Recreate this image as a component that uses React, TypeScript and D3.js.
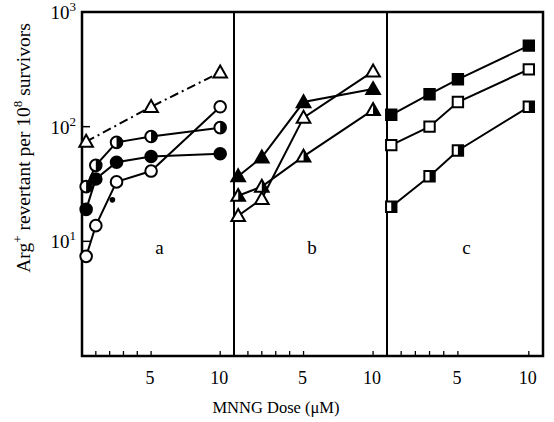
import * as d3 from 'd3';
import React, {useRef, useEffect} from 'react';

// doses (uM) and revertants per 10^8 survivors
const dosesA = [0.3, 1, 2.5, 5, 10];
const aHalfCircle = [30, 46, 73, 82, 98];
const aFilledCircle = [19, 35, 49, 55, 58];
const aOpenCircle = [7.4, 13.7, 33, 41, 149];
const dosesADash = [0.3, 5, 10];
const aOpenTriangle = [74, 149, 298];
const dosesADot = [2.2];
const aDot = [23];

const dosesB = [0.3, 2, 5, 10];
const bFilledTriangle = [37, 54, 164, 213];
const bHalfTriangle = [25, 30, 55, 140];
const bOpenTriangle = [16.7, 23.5, 120, 304];

const dosesC = [0.3, 3, 5, 10];
const cFilledSquare = [127, 192, 259, 509];
const cOpenSquare = [69, 100, 164, 316];
const cHalfSquare = [20, 37, 62, 149];

const panelNames = ['a', 'b', 'c'];
const xTicks = [1, 2, 3, 4, 5, 10];
const xTickLabels = [5, 10];
const yTicks = [10, 100, 1000];

function App(){
    const ref = useRef();

    useEffect(() => {
        const svg = d3.select(ref.current);
        svg.selectAll('*').remove();

        const edges = [82, 234, 387, 543];
        const top = 12, bottom = 356;
        const y = d3.scaleLog().domain([1, 1000]).range([bottom, top]);
        const xs = [0, 1, 2].map(i => d3.scaleLinear().domain([0, 11]).range([edges[i], edges[i + 1]]));

        const font = '"Liberation Serif", "DejaVu Serif", serif';

        // frame and dividers
        svg.append('rect')
            .attr('x', edges[0]).attr('y', top)
            .attr('width', edges[3] - edges[0]).attr('height', bottom - top)
            .attr('fill', 'none').attr('stroke', '#000').attr('stroke-width', 2.5);
        [edges[1], edges[2]].forEach(e => {
            svg.append('line').attr('x1', e).attr('x2', e).attr('y1', top).attr('y2', bottom)
                .attr('stroke', '#000').attr('stroke-width', 2);
        });

        // y ticks and labels
        yTicks.forEach(t => {
            svg.append('line').attr('x1', edges[0]).attr('x2', edges[0] + 8)
                .attr('y1', y(t)).attr('y2', y(t)).attr('stroke', '#000').attr('stroke-width', 1.5);
            const txt = svg.append('text').attr('x', 76).attr('y', y(t) + 7)
                .attr('text-anchor', 'end').attr('font-family', font).attr('font-size', 19);
            txt.append('tspan').text('10');
            txt.append('tspan').attr('dy', -8).attr('font-size', 13).text(Math.round(Math.log10(t)));
        });

        // x ticks per panel
        xs.forEach((x, i) => {
            xTicks.forEach(t => {
                svg.append('line').attr('x1', x(t)).attr('x2', x(t))
                    .attr('y1', bottom).attr('y2', bottom - 5)
                    .attr('stroke', '#000').attr('stroke-width', 1.3);
            });
            xTickLabels.forEach(t => {
                svg.append('text').attr('x', x(t) - 1).attr('y', 384)
                    .attr('text-anchor', 'middle').attr('font-family', font).attr('font-size', 18)
                    .text(t);
            });
            svg.append('text').attr('x', x(5.6)).attr('y', 254)
                .attr('text-anchor', 'middle').attr('font-family', font).attr('font-size', 19)
                .text(panelNames[i]);
        });

        // axis titles
        svg.append('text').attr('x', 276).attr('y', 413)
            .attr('text-anchor', 'middle').attr('font-family', font).attr('font-size', 16.5)
            .text('MNNG Dose (μM)');
        const yt = svg.append('text')
            .attr('transform', 'translate(30,148) rotate(-90)')
            .attr('text-anchor', 'middle').attr('font-family', font).attr('font-size', 19.5);
        yt.append('tspan').text('Arg');
        yt.append('tspan').attr('dy', -8).attr('font-size', 13).text('+');
        yt.append('tspan').attr('dy', 8).text(' revertant per 10');
        yt.append('tspan').attr('dy', -8).attr('font-size', 13).text('8');
        yt.append('tspan').attr('dy', 8).text(' survivors');

        const marker = (g, shape, fill, cx, cy) => {
            if (shape === 'dot') {
                g.append('circle').attr('cx', cx).attr('cy', cy).attr('r', 2.8).attr('fill', '#000');
                return;
            }
            let outline, half;
            if (shape === 'circle') {
                const r = 5.8;
                outline = `M${cx - r},${cy}A${r},${r} 0 1 1 ${cx + r},${cy}A${r},${r} 0 1 1 ${cx - r},${cy}Z`;
                half = `M${cx},${cy - r}A${r},${r} 0 0 1 ${cx},${cy + r}Z`;
            } else if (shape === 'triangle') {
                const s = 6.8;
                outline = `M${cx},${cy - s}L${cx + s},${cy + s * 0.75}L${cx - s},${cy + s * 0.75}Z`;
                half = `M${cx},${cy - s}L${cx + s},${cy + s * 0.75}L${cx},${cy + s * 0.75}Z`;
            } else {
                const h = 5.2;
                outline = `M${cx - h},${cy - h}H${cx + h}V${cy + h}H${cx - h}Z`;
                half = `M${cx},${cy - h}H${cx + h}V${cy + h}H${cx}Z`;
            }
            g.append('path').attr('d', outline)
                .attr('fill', fill === 'filled' ? '#000' : '#fff')
                .attr('stroke', '#000').attr('stroke-width', 2);
            if (fill === 'half') g.append('path').attr('d', half).attr('fill', '#000');
        };

        const series = [
            {p: 0, d: dosesADash, v: aOpenTriangle, shape: 'triangle', fill: 'open', dash: '9,4,2,4'},
            {p: 0, d: dosesA, v: aOpenCircle, shape: 'circle', fill: 'open'},
            {p: 0, d: dosesA, v: aFilledCircle, shape: 'circle', fill: 'filled'},
            {p: 0, d: dosesA, v: aHalfCircle, shape: 'circle', fill: 'half'},
            {p: 0, d: dosesADot, v: aDot, shape: 'dot', fill: 'filled', noLine: true},
            {p: 1, d: dosesB, v: bOpenTriangle, shape: 'triangle', fill: 'open'},
            {p: 1, d: dosesB, v: bHalfTriangle, shape: 'triangle', fill: 'half'},
            {p: 1, d: dosesB, v: bFilledTriangle, shape: 'triangle', fill: 'filled'},
            {p: 2, d: dosesC, v: cHalfSquare, shape: 'square', fill: 'half'},
            {p: 2, d: dosesC, v: cOpenSquare, shape: 'square', fill: 'open'},
            {p: 2, d: dosesC, v: cFilledSquare, shape: 'square', fill: 'filled'},
        ];

        series.forEach(s => {
            const x = xs[s.p];
            const pts = s.d.map((dv, i) => [x(dv), y(s.v[i])]);
            const g = svg.append('g');
            if (!s.noLine) {
                g.append('path').attr('d', d3.line()(pts))
                    .attr('fill', 'none').attr('stroke', '#000').attr('stroke-width', 2)
                    .attr('stroke-dasharray', s.dash || null);
            }
            pts.forEach(([cx, cy]) => marker(g, s.shape, s.fill, cx, cy));
        });
    }, []);

    return (
        <svg ref={ref} width={554} height={422}
            style={{position: 'absolute', left: 0, top: 0, background: '#fff'}}>
        </svg>
    );
}

export default App;
